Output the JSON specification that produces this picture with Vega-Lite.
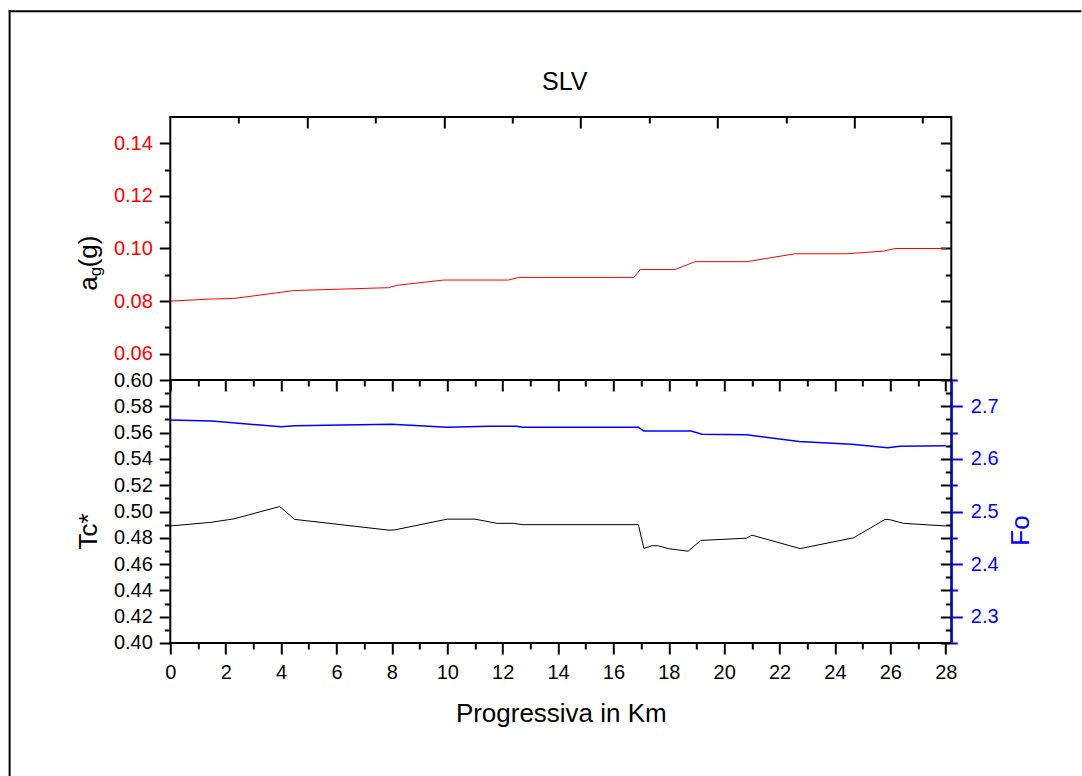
{
  "$schema": "https://vega.github.io/schema/vega-lite/v6.json",
  "padding": {"left": 6.3, "top": 8, "right": 0, "bottom": 0},
  "background": "white",
  "spacing": 0,
  "bounds": "flush",
  "config": {
    "font": "Liberation Sans",
    "view": {"stroke": "#000000", "strokeWidth": 2},
    "axis": {
      "domain": false, "grid": false,
      "labelFont": "Liberation Sans", "titleFont": "Liberation Sans",
      "labelFontSize": 20, "titleFontSize": 26, "titleFontWeight": "normal",
      "tickColor": "#000000", "tickWidth": 2, "labelColor": "#000000", "titleColor": "#000000",
      "labelFlush": false, "labelOverlap": false
    }
  },
  "datasets": {
    "ag": [
      {"km": 0, "ag": 0.080}, {"km": 1.5, "ag": 0.0808}, {"km": 2.29, "ag": 0.081},
      {"km": 3.97, "ag": 0.0833}, {"km": 4.45, "ag": 0.084}, {"km": 7.88, "ag": 0.0851},
      {"km": 8.18, "ag": 0.086}, {"km": 9.87, "ag": 0.088}, {"km": 12.2, "ag": 0.088},
      {"km": 12.58, "ag": 0.089}, {"km": 16.73, "ag": 0.089}, {"km": 16.97, "ag": 0.092},
      {"km": 18.23, "ag": 0.092}, {"km": 18.95, "ag": 0.095}, {"km": 20.82, "ag": 0.095},
      {"km": 22.56, "ag": 0.098}, {"km": 24.43, "ag": 0.098}, {"km": 25.75, "ag": 0.099},
      {"km": 26.17, "ag": 0.100}, {"km": 28.0, "ag": 0.100}
    ],
    "tc": [
      {"km": 0, "tc": 0.489}, {"km": 1.44, "tc": 0.4917}, {"km": 2.3, "tc": 0.4944},
      {"km": 3.95, "tc": 0.5038}, {"km": 4.49, "tc": 0.494}, {"km": 7.9, "tc": 0.4858},
      {"km": 8.1, "tc": 0.486}, {"km": 10.0, "tc": 0.4942}, {"km": 11.0, "tc": 0.4942},
      {"km": 11.8, "tc": 0.491}, {"km": 12.4, "tc": 0.491}, {"km": 12.7, "tc": 0.490},
      {"km": 16.9, "tc": 0.490}, {"km": 17.1, "tc": 0.472}, {"km": 17.4, "tc": 0.474},
      {"km": 17.6, "tc": 0.474}, {"km": 18.0, "tc": 0.4717}, {"km": 18.7, "tc": 0.4698},
      {"km": 19.15, "tc": 0.478}, {"km": 20.8, "tc": 0.4797}, {"km": 21.0, "tc": 0.482},
      {"km": 22.74, "tc": 0.4718}, {"km": 24.67, "tc": 0.480}, {"km": 25.81, "tc": 0.494},
      {"km": 26.0, "tc": 0.4937}, {"km": 26.47, "tc": 0.491}, {"km": 28.0, "tc": 0.489}
    ],
    "fo": [
      {"km": 0, "fo": 2.674}, {"km": 1.5, "fo": 2.672}, {"km": 4.0, "fo": 2.661},
      {"km": 4.5, "fo": 2.663}, {"km": 8.0, "fo": 2.666}, {"km": 10.0, "fo": 2.660},
      {"km": 11.5, "fo": 2.662}, {"km": 12.5, "fo": 2.662}, {"km": 12.7, "fo": 2.660},
      {"km": 16.9, "fo": 2.660}, {"km": 17.1, "fo": 2.653}, {"km": 18.8, "fo": 2.653},
      {"km": 19.2, "fo": 2.647}, {"km": 20.8, "fo": 2.646}, {"km": 22.7, "fo": 2.633},
      {"km": 24.6, "fo": 2.628}, {"km": 25.9, "fo": 2.621}, {"km": 26.35, "fo": 2.624},
      {"km": 28.0, "fo": 2.625}
    ],
    "one": [{}]
  },
  "vconcat": [
    {
      "width": 781,
      "height": 263,
      "resolve": {"axis": {"x": "independent", "y": "independent"}},
      "layer": [
        {
          "data": {"name": "ag"},
          "mark": {"type": "line", "color": "#FF0000", "strokeWidth": 1},
          "encoding": {
            "x": {"field": "km", "type": "quantitative", "scale": {"domain": [0, 28.2], "nice": false, "zero": false}, "axis": null},
            "y": {"field": "ag", "type": "quantitative", "scale": {"domain": [0.05, 0.15], "nice": false, "zero": false},
              "axis": {"orient": "left", "values": [0.06, 0.07, 0.08, 0.09, 0.10, 0.11, 0.12, 0.13, 0.14],
                "labelExpr": "round(datum.value*100)%2===0 ? format(datum.value,'.2f') : ''",
                "labelColor": "#FF0000",
                "tickSize": {"condition": {"test": "round(datum.value*100)%2===0", "value": 11}, "value": 6},
                "labelPadding": 7,
                "title": "a", "titleAngle": 270, "titleBaseline": "alphabetic", "titleAlign": "center", "titleX": -74, "titleY": 166}}
          }
        },
        {
          "data": {"name": "ag"},
          "mark": {"type": "point", "opacity": 0},
          "encoding": {
            "x": {"field": "km", "type": "quantitative", "scale": {"domain": [0, 28.2], "nice": false, "zero": false},
              "axis": {"orient": "top", "values": [2.47, 4.94, 7.41, 9.88, 12.35, 14.82, 17.29, 19.76, 22.23, 24.70, 27.17],
                "labels": false,
                "tickSize": {"condition": {"test": "round(datum.value/2.47)%2===0", "value": -11}, "value": -6},
                "title": "SLV", "titleFontSize": 25, "titleBaseline": "alphabetic", "titleAlign": "center", "titleX": 394, "titleY": -27.7}},
            "y": {"field": "ag", "type": "quantitative", "scale": {"domain": [0.05, 0.15], "nice": false, "zero": false},
              "axis": {"orient": "right", "values": [0.06, 0.07, 0.08, 0.09, 0.10, 0.11, 0.12, 0.13, 0.14],
                "labels": false,
                "tickSize": {"condition": {"test": "round(datum.value*100)%2===0", "value": -11}, "value": -6},
                "title": "(g)", "titleAngle": 270, "titleBaseline": "alphabetic", "titleAlign": "center", "titleX": -855, "titleY": 134}}
          }
        },
        {
          "data": {"name": "ag"},
          "mark": {"type": "point", "opacity": 0},
          "encoding": {
            "x": {"field": "km", "type": "quantitative", "scale": {"domain": [0, 28.2], "nice": false, "zero": false}, "axis": null},
            "y": {"field": "ag", "type": "quantitative", "scale": {"domain": [0.05, 0.15], "nice": false, "zero": false},
              "axis": {"orient": "left", "ticks": false, "labels": false, "domain": false,
                "title": "g", "titleFontSize": 17, "titleAngle": 270, "titleBaseline": "alphabetic", "titleAlign": "center", "titleX": -70, "titleY": 154}}
          }
        },
        {
          "data": {"name": "one"},
          "mark": {"type": "rule", "color": "#000000", "strokeWidth": 2, "strokeCap": "square"},
          "encoding": {
            "x": {"datum": -5.802, "type": "quantitative", "scale": {"domain": [0, 28.2], "nice": false, "zero": false}, "axis": null},
            "x2": {"datum": 32.858},
            "y": {"datum": 0.19019, "type": "quantitative", "scale": {"domain": [0.05, 0.15], "nice": false, "zero": false}, "axis": null}
          }
        },
        {
          "data": {"name": "one"},
          "mark": {"type": "rule", "color": "#000000", "strokeWidth": 2, "strokeCap": "square"},
          "encoding": {
            "x": {"datum": -5.802, "type": "quantitative", "scale": {"domain": [0, 28.2], "nice": false, "zero": false}, "axis": null},
            "y": {"datum": 0.19019, "type": "quantitative", "scale": {"domain": [0.05, 0.15], "nice": false, "zero": false}, "axis": null},
            "y2": {"datum": -0.10015}
          }
        }
      ]
    },
    {
      "width": 781,
      "height": 263,
      "resolve": {"scale": {"y": "independent"}, "axis": {"x": "independent", "y": "independent"}},
      "layer": [
        {
          "data": {"name": "tc"},
          "mark": {"type": "line", "color": "#000000", "strokeWidth": 1},
          "encoding": {
            "x": {"field": "km", "type": "quantitative", "scale": {"domain": [0, 28.2], "nice": false, "zero": false},
              "axis": {"orient": "bottom", "values": [0,1,2,3,4,5,6,7,8,9,10,11,12,13,14,15,16,17,18,19,20,21,22,23,24,25,26,27,28],
                "labelExpr": "datum.value%2===0 ? format(datum.value,'d') : ''",
                "tickSize": {"condition": {"test": "datum.value%2===0", "value": 11}, "value": 6},
                "labelPadding": 9,
                "title": "Progressiva in Km", "titleBaseline": "alphabetic", "titleY": 79}},
            "y": {"field": "tc", "type": "quantitative", "scale": {"domain": [0.4, 0.6], "nice": false, "zero": false},
              "axis": {"orient": "left", "values": [0.40,0.41,0.42,0.43,0.44,0.45,0.46,0.47,0.48,0.49,0.50,0.51,0.52,0.53,0.54,0.55,0.56,0.57,0.58,0.59,0.60],
                "labelExpr": "round(datum.value*100)%2===0 ? format(datum.value,'.2f') : ''",
                "tickSize": {"condition": {"test": "round(datum.value*100)%2===0", "value": 11}, "value": 6},
                "labelPadding": 7,
                "title": "Tc*", "titleAngle": 270, "titleBaseline": "alphabetic", "titleAlign": "center", "titleX": -74, "titleY": 151}}
          }
        },
        {
          "data": {"name": "fo"},
          "mark": {"type": "line", "color": "#0000FF", "strokeWidth": 1.5},
          "encoding": {
            "x": {"field": "km", "type": "quantitative", "scale": {"domain": [0, 28.2], "nice": false, "zero": false},
              "axis": {"orient": "top", "values": [0,1,2,3,4,5,6,7,8,9,10,11,12,13,14,15,16,17,18,19,20,21,22,23,24,25,26,27,28],
                "labels": false, "title": null,
                "tickSize": {"condition": {"test": "datum.value%2===0", "value": -11}, "value": -6}}},
            "y": {"field": "fo", "type": "quantitative", "scale": {"domain": [2.25, 2.75], "nice": false, "zero": false},
              "axis": {"orient": "right", "values": [2.25,2.30,2.35,2.40,2.45,2.50,2.55,2.60,2.65,2.70,2.75],
                "domain": true, "domainColor": "#0000FF", "domainWidth": 2,
                "tickColor": "#0000FF", "labelColor": "#0000FF",
                "labelExpr": "round(datum.value*100)%10===0 ? format(datum.value,'.1f') : ''",
                "tickSize": {"condition": {"test": "round(datum.value*100)%10===0", "value": 11}, "value": 6},
                "labelPadding": 8,
                "title": "Fo", "titleColor": "#0000FF", "titleAngle": 270, "titleBaseline": "alphabetic", "titleAlign": "center", "titleX": 77, "titleY": 150}}
          }
        },
        {
          "data": {"name": "tc"},
          "mark": {"type": "point", "opacity": 0},
          "encoding": {
            "x": {"field": "km", "type": "quantitative", "scale": {"domain": [0, 28.2], "nice": false, "zero": false}, "axis": null},
            "y": {"field": "tc", "type": "quantitative", "scale": {"domain": [0.4, 0.6], "nice": false, "zero": false},
              "axis": {"orient": "right", "values": [0.40,0.41,0.42,0.43,0.44,0.45,0.46,0.47,0.48,0.49,0.50,0.51,0.52,0.53,0.54,0.55,0.56,0.57,0.58,0.59,0.60],
                "labels": false, "title": null,
                "tickSize": {"condition": {"test": "round(datum.value*100)%2===0", "value": -11}, "value": -6}}}
          }
        }
      ]
    }
  ]
}
